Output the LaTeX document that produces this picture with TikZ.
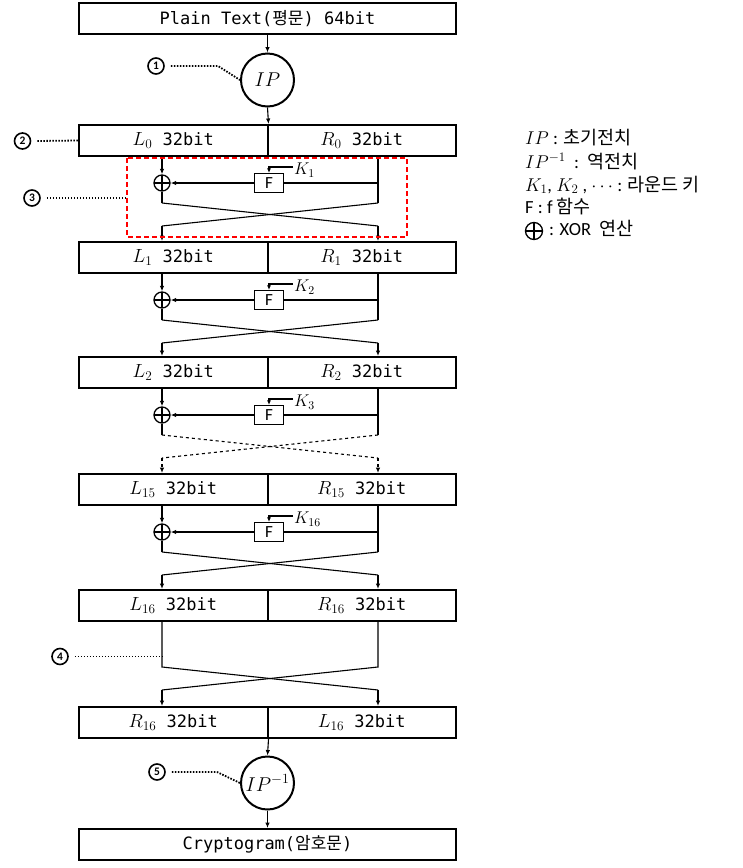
\RequirePackage{fix-cm}
\documentclass[tikz,border=0pt]{standalone}
\usepackage{fontspec}
\setmainfont{Carlito}
\setmonofont{DejaVu Sans Mono}
\newfontfamily\kr{Noto Sans CJK KR}
\usetikzlibrary{arrows.meta}
\newcommand\mth[1]{{\fontsize{19}{22}\selectfont$#1$}}
\begin{document}
\begin{tikzpicture}[x=1pt,y=-1pt,
  conn/.style={line width=1.1pt},
  arr/.style={conn,-{Latex[length=5.5pt,width=4.5pt]}},
  karr/.style={conn,-{Latex[length=4.5pt,width=4pt]}},
  half/.style={draw,line width=2pt,minimum width=188.5pt,minimum height=31pt,inner sep=0pt,font=\fontsize{17}{19}\selectfont\ttfamily},
  wide/.style={draw,line width=2pt,minimum width=377pt,minimum height=31pt,inner sep=0pt,font=\fontsize{17}{19}\selectfont\ttfamily},
  perm/.style={circle,draw,line width=2pt,minimum size=53pt,inner sep=0pt,font=\fontsize{20}{22}\selectfont},
  xorc/.style={circle,draw,line width=1.3pt,minimum size=16pt,inner sep=0pt,
    path picture={\draw[line width=1.1pt] (path picture bounding box.north) -- (path picture bounding box.south)
      (path picture bounding box.west) -- (path picture bounding box.east);}},
  fbox/.style={draw,line width=1.3pt,minimum width=29pt,minimum height=19pt,inner sep=0pt,font=\fontsize{17}{18}\selectfont},
  klab/.style={anchor=west,inner sep=1pt,font=\fontsize{17}{18}\selectfont},
  num/.style={circle,draw,line width=1.6pt,minimum size=16pt,inner sep=0pt,font=\fontsize{11.5}{12}\selectfont\bfseries},
  dots/.style={line width=1.8pt,dash pattern=on 1.6pt off 1.4pt},
  leg/.style={anchor=west,inner sep=0pt,text height=11pt,text depth=3pt,font=\fontsize{18.5}{22}\selectfont}
]
\useasboundingbox (0,0) rectangle (743,868);

% top and bottom boxes
\node[wide] (plain) at (267.5,18.5) {Plain Text({\kr 평문}) 64bit};
\node[perm] (ip) at (267.5,80) {$IP$};
\node[perm] (ipi) at (267.5,783) {$IP^{-1}$};
\node[wide] (crypt) at (267.5,844.5) {Cryptogram({\kr 암호문})};

% rows
\node[half] (bL0) at (173.25,140.5) {\mth{L_0} 32bit};
\node[half] (bR0) at (361.75,140.5) {\mth{R_0} 32bit};
\node[half] (bL1) at (173.25,257.5) {\mth{L_1} 32bit};
\node[half] (bR1) at (361.75,257.5) {\mth{R_1} 32bit};
\node[half] (bL2) at (173.25,372.5) {\mth{L_2} 32bit};
\node[half] (bR2) at (361.75,372.5) {\mth{R_2} 32bit};
\node[half] (bL3) at (173.25,489.5) {\mth{L_{15}} 32bit};
\node[half] (bR3) at (361.75,489.5) {\mth{R_{15}} 32bit};
\node[half] (bL4) at (173.25,605.5) {\mth{L_{16}} 32bit};
\node[half] (bR4) at (361.75,605.5) {\mth{R_{16}} 32bit};
\node[half] (bL5) at (173.25,722.5) {\mth{R_{16}} 32bit};
\node[half] (bR5) at (361.75,722.5) {\mth{L_{16}} 32bit};

\draw[arr] (plain.south) -- (ip.north);
\draw[arr] (ip.south) -- (bL0.north east);
\draw[arr] (bL5.south east) -- (ipi.north);
\draw[arr] (ipi.south) -- (crypt.north);

% rounds
\foreach \j/\n/\yb/\dsh/\kk in {0/1/156/solid/1, 1/2/273/solid/2, 2/3/388/dashed/3, 3/4/505/solid/16}{
  \node[xorc] (x\j) at (162,\yb+27) {};
  \node[fbox] (f\j) at (269,\yb+27) {F};
  \coordinate (rv\j) at (378,\yb+47);
  \coordinate (lv\j) at (162,\yb+47);
  \coordinate (rd\j) at (378,\yb+70);
  \coordinate (ld\j) at (162,\yb+70);
  \draw[arr] (bL\j.south -| x\j) -- (x\j.north);
  \draw[conn] (bR\j.south -| rv\j) -- (rv\j);
  \draw[conn] (rv\j |- f\j) -- (f\j.east);
  \draw[arr] (f\j.west) -- (x\j.east);
  \draw[conn] (x\j.south) -- (lv\j);
  \draw[conn,\dsh] (lv\j) -- (rd\j);
  \draw[conn,\dsh] (rv\j) -- (ld\j);
  \draw[arr,\dsh] (ld\j) -- (ld\j |- bL\n.north);
  \draw[arr,\dsh] (rd\j) -- (rd\j |- bR\n.north);
  \node[klab] (k\j) at (293,\yb+14) {$K_{\kk}$};
  \coordinate (kc\j) at (269,\yb+11);
  \draw[karr] (k\j.west |- kc\j) -- (kc\j) -- (f\j.north);
}

% final swap
\coordinate (lv4) at (162,667);
\coordinate (rv4) at (378,667);
\coordinate (ld4) at (162,690);
\coordinate (rd4) at (378,690);
\draw[conn] (bL4.south -| lv4) -- (lv4) -- (rd4);
\draw[conn] (bR4.south -| rv4) -- (rv4) -- (ld4);
\draw[arr] (ld4) -- (ld4 |- bL5.north);
\draw[arr] (rd4) -- (rd4 |- bR5.north);

% red dashed frame
\draw[red,line width=1.5pt,dash pattern=on 5pt off 3pt] (127,158) rectangle (407,237);
\coordinate (fr) at (127,198);

% numbered callouts
\node[num] (n1) at (156,66) {1};
\node[num] (n2) at (22.5,141) {2};
\node[num] (n3) at (32,198) {3};
\node[num] (n4) at (60,656.5) {4};
\node[num] (n5) at (157,772) {5};
\coordinate (c1) at (218,66);
\coordinate (c5) at (217,772);
\draw[dots] (n1.east) ++(6,0) -- (c1) -- (ip.west);
\draw[dots] (n2.east) ++(6,0) -- (bL0.west);
\draw[dots] (n3.east) ++(6,0) -- (fr);
\draw[dots] (n4.east) ++(6,0) -- (lv4 |- n4);
\draw[dots] (n5.east) ++(6,0) -- (c5) -- (ipi.west);

% legend
\node[leg] (g1) at (525,140) {$IP$ : {\kr 초기전치}};
\node[leg] (g2) at (525,164) {$IP^{-1}$\ \ :\ \ {\kr 역전치}};
\node[leg] (g3) at (525,187) {$K_1$, $K_2$ , $\cdots$ : {\kr 라운드 키}};
\node[leg] (g4) at (525,209) {F : f {\kr 함수}};
\node[xorc,minimum size=17pt] (gx) at (534,231) {};
\node[leg] (g5) at (549,231) {: XOR\ \ {\kr 연산}};
\end{tikzpicture}
\end{document}
